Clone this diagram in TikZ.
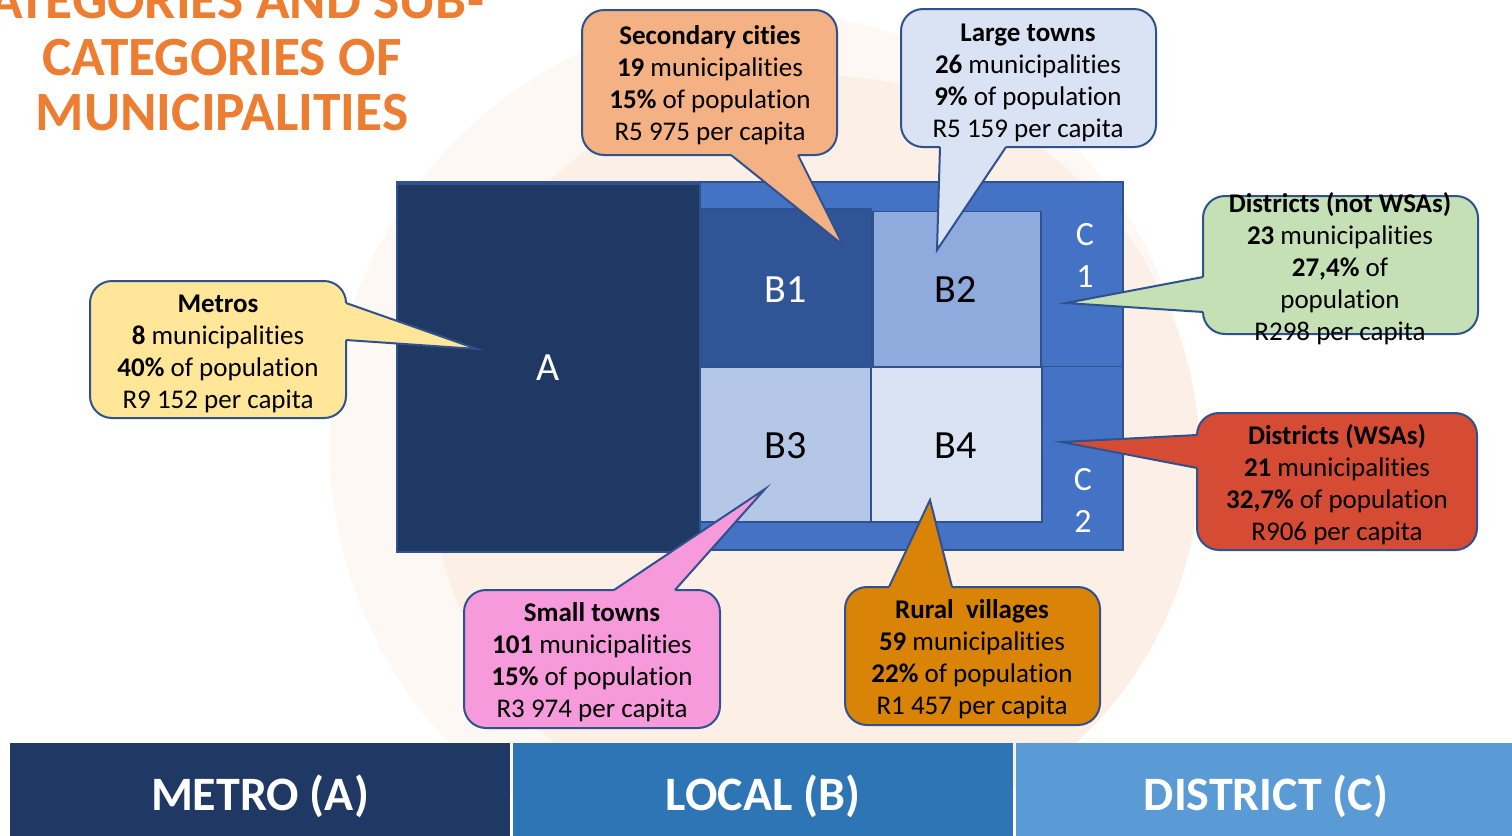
\documentclass[tikz,border=0pt]{standalone}
\usepackage{fontspec}
\setmainfont{Carlito}[Ligatures={NoCommon}]
\definecolor{bordc}{HTML}{2F528F}
\definecolor{navy}{HTML}{203864}
\definecolor{bonec}{HTML}{2F5597}
\definecolor{btwoc}{HTML}{8FAADC}
\definecolor{bthreec}{HTML}{B4C7E7}
\definecolor{bfourc}{HTML}{DAE3F3}
\definecolor{cblue}{HTML}{4472C4}
\definecolor{yelc}{HTML}{FFE699}
\definecolor{orac}{HTML}{F4B183}
\definecolor{grec}{HTML}{C5E0B4}
\definecolor{redc}{HTML}{D64B34}
\definecolor{pinkc}{HTML}{F79ADB}
\definecolor{goldc}{HTML}{D98307}
\definecolor{bandbc}{HTML}{2E75B6}
\definecolor{bandcc}{HTML}{5B9BD5}
\definecolor{titleo}{HTML}{ED7D31}
\definecolor{circo}{HTML}{FDF8F4}
\definecolor{circi}{HTML}{FCF0E6}
\begin{document}
\begin{tikzpicture}[x=0.5pt,y=-0.5pt,
  rectbox/.style={draw=bordc, line width=0.6pt, inner sep=0pt},
  bigtxt/.style={font=\fontsize{20}{24}\selectfont},
  callbox/.style={draw=bordc, line width=1pt, rounded corners=11pt, inner sep=0pt},
  calltext/.style={align=center, font=\fontsize{13.5}{16}\selectfont, inner sep=0pt, text=black},
  ptrline/.style={draw=bordc, line width=1pt, line join=miter},
  bandbox/.style={minimum height=46.5pt, inner sep=0pt},
  bandtext/.style={text=white, font=\fontsize{24}{29}\selectfont\bfseries, anchor=base, inner sep=0pt},
  titletext/.style={text=titleo, font=\fontsize{27.7}{33}\selectfont\bfseries, anchor=base, inner sep=0pt}
]
\useasboundingbox (0,0) rectangle (1512,836);
\fill[white] (0,0) rectangle (1512,836);
% background circles
\fill[circo] (762,445) circle[radius=216pt];
\fill[circi] (815,460) circle[radius=192.5pt];

% title
\node[titletext] (t1) at (222,18) {CATEGORIES AND SUB-};
\node[titletext] (t2) at (222,75) {CATEGORIES OF};
\node[titletext] (t3) at (222,130) {MUNICIPALITIES};

% bottom band
\node[bandbox, fill=navy, minimum width=250pt] (bandA) at (260,789.5) {};
\node[bandbox, fill=bandbc, minimum width=250pt] (bandB) at (763,789.5) {};
\node[bandbox, fill=bandcc, minimum width=248pt] (bandC) at (1264,789.5) {};
\node[bandtext] (lbA) at (260,810) {METRO (A)};
\node[bandtext] (lbB) at (763,810) {LOCAL (B)};
\node[bandtext] (lbC) at (1266,810) {DISTRICT (C)};

% main rectangles
\node[rectbox, fill=cblue, minimum width=363pt, minimum height=184pt] (outer) at (760,366) {};
\node[rectbox, fill=navy, minimum width=151.5pt, minimum height=184pt, text=white, bigtxt] (A) at (548.5,368) {A};
\node[rectbox, fill=bonec, minimum width=85.5pt, minimum height=79pt, text=white, bigtxt] (B1) at (785.5,288) {};
\node[rectbox, fill=btwoc, minimum width=84pt, minimum height=77.5pt, text=black, bigtxt] (B2) at (957,289) {};
\node[rectbox, fill=bthreec, minimum width=85.5pt, minimum height=77.5pt, text=black, bigtxt] (B3) at (785.5,444.5) {};
\node[rectbox, fill=bfourc, minimum width=85.5pt, minimum height=77.5pt, text=black, bigtxt] (B4) at (956.5,444.5) {};
\node[text=white, bigtxt, inner sep=0pt] (B1L) at (786,290) {B1};
\node[text=black, bigtxt, inner sep=0pt] (B2L) at (956,290) {B2};
\node[text=black, bigtxt, inner sep=0pt] (B3L) at (786,446) {B3};
\node[text=black, bigtxt, inner sep=0pt] (B4L) at (956,446) {B4};
\draw[bordc, line width=0.8pt] (B4.north east) -- (B4.north east -| outer.east);
\node[text=white, align=center, font=\fontsize{17}{21}\selectfont, inner sep=0pt] (C1) at (1085,255) {C\\1};
\node[text=white, align=center, font=\fontsize{17}{21}\selectfont, inner sep=0pt] (C2) at (1083,500) {C\\2};

% ---- callouts ----
% Metros
\node[callbox, fill=yelc, minimum width=128pt, minimum height=68.5pt] (metros) at (218,349.5) {};
\coordinate (mA) at (346,303); \coordinate (mB) at (346,340); \coordinate (mtip) at (477,349);
\fill[yelc] (340,303) -- (mA) -- (mtip) -- (mB) -- (340,340) -- cycle;
\draw[ptrline] (mA) -- (mtip) -- (mB);
\node[calltext] (metrosT) at (218,354) {\textbf{Metros}\\\textbf{8} municipalities\\\textbf{40\%} of population\\R9 152 per capita};

% Secondary cities
\node[callbox, fill=orac, minimum width=127.5pt, minimum height=72.5pt] (sec) at (709.5,82.5) {};
\coordinate (sA) at (731,155); \coordinate (sB) at (798,155); \coordinate (stip) at (843,245);
\fill[orac] (731,149) -- (sA) -- (stip) -- (sB) -- (798,149) -- cycle;
\draw[ptrline] (sA) -- (stip) -- (sB);
\node[calltext] (secT) at (710,85.5) {\textbf{Secondary cities}\\\textbf{19} municipalities\\\textbf{15\%} of population\\R5 975 per capita};

% Large towns
\node[callbox, fill=bfourc, minimum width=127.5pt, minimum height=69pt] (large) at (1028.5,78) {};
\coordinate (lA) at (940,147); \coordinate (lB) at (1006,147); \coordinate (ltip) at (937,250);
\fill[bfourc] (940,141) -- (lA) -- (ltip) -- (lB) -- (1006,141) -- cycle;
\draw[ptrline] (lA) -- (ltip) -- (lB);
\node[calltext] (largeT) at (1028,82.5) {\textbf{Large towns}\\\textbf{26} municipalities\\\textbf{9\%} of population\\R5 159 per capita};

% Districts (not WSAs)
\node[callbox, fill=grec, minimum width=137.5pt, minimum height=69pt] (dnot) at (1340.5,265) {};
\coordinate (gA) at (1203,277); \coordinate (gB) at (1203,312); \coordinate (gtip) at (1066,303);
\fill[grec] (1209,277) -- (gA) -- (gtip) -- (gB) -- (1209,312) -- cycle;
\draw[ptrline] (gA) -- (gtip) -- (gB);
\node[calltext] (dnotT) at (1340,269) {\textbf{Districts (not WSAs)}\\\textbf{23} municipalities\\\textbf{27,4\%} of\\population\\R298 per capita};

% Districts (WSAs)
\node[callbox, fill=redc, minimum width=140pt, minimum height=68.5pt] (dwsa) at (1337,481.5) {};
\coordinate (rA) at (1197,435); \coordinate (rB) at (1197,468); \coordinate (rtip) at (1062,442);
\fill[redc] (1203,435) -- (rA) -- (rtip) -- (rB) -- (1203,468) -- cycle;
\draw[ptrline] (rA) -- (rtip) -- (rB);
\node[calltext] (dwsaT) at (1337,485) {\textbf{Districts (WSAs)}\\\textbf{21} municipalities\\\textbf{32,7\%} of population\\R906 per capita};

% Small towns
\node[callbox, fill=pinkc, minimum width=128pt, minimum height=69pt] (small) at (592,659) {};
\coordinate (pA) at (614,590); \coordinate (pB) at (675,590); \coordinate (ptip) at (765,489);
\fill[pinkc] (614,596) -- (pA) -- (ptip) -- (pB) -- (675,596) -- cycle;
\draw[ptrline] (pA) -- (ptip) -- (pB);
\node[calltext] (smallT) at (592,662) {\textbf{Small towns}\\\textbf{101} municipalities\\\textbf{15\%} of population\\R3 974 per capita};

% Rural villages
\node[callbox, fill=goldc, minimum width=127.5pt, minimum height=69pt] (rural) at (972.5,656) {};
\coordinate (vA) at (889,587); \coordinate (vB) at (952,587); \coordinate (vtip) at (930,500);
\fill[goldc] (889,593) -- (vA) -- (vtip) -- (vB) -- (952,593) -- cycle;
\draw[ptrline] (vA) -- (vtip) -- (vB);
\node[calltext] (ruralT) at (972,659.5) {\textbf{Rural\ \ villages}\\\textbf{59} municipalities\\\textbf{22\%} of population\\R1 457 per capita};
\end{tikzpicture}
\end{document}
